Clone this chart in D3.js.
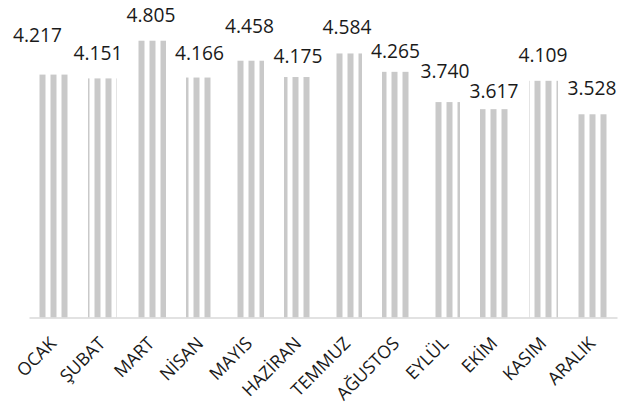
<!DOCTYPE html>
<html>
<head>
<meta charset="utf-8">
<script src="https://cdn.jsdelivr.net/npm/d3@7"></script>
<style>
  body { margin: 0; background: #fff; }
  svg { display: block; }
</style>
</head>
<body>
<div id="chart"></div>
<script>

var months = ["OCAK", "ŞUBAT", "MART", "NİSAN", "MAYIS", "HAZİRAN",
              "TEMMUZ", "AĞUSTOS", "EYLÜL", "EKİM", "KASIM", "ARALIK"];
var values = [4217, 4151, 4805, 4166, 4458, 4175, 4584, 4265, 3740, 3617, 4109, 3528];
var valueLabels = ["4.217", "4.151", "4.805", "4.166", "4.458", "4.175",
                   "4.584", "4.265", "3.740", "3.617", "4.109", "3.528"];

// labels were dragged by hand in the original, so each one gets its own nudge
var labelLift = [33, 18, 19, 17.5, 27.5, 14, 19.5, 14, 24, 11, 19, 19.5];
var labelShift = [-16, -4.5, -0.5, -1, 0, -0.5, -0.5, -1, -0.5, -0.5, -0.5, -0.5];

var svg_w = 625, svg_h = 404;
var plot = {left: 29, right: 617, top: 29.5, bottom: 317.5};
var font = "'Open Sans', 'Noto Sans', sans-serif";

var svg = d3.select("#chart").append("svg")
  .attr("width", svg_w)
  .attr("height", svg_h);

// striped fill, anchored to the page like the original
var pat = svg.append("defs").append("pattern")
  .attr("id", "stripes")
  .attr("patternUnits", "userSpaceOnUse")
  .attr("x", 39.5)
  .attr("y", 0)
  .attr("width", 11)
  .attr("height", 10);
pat.append("rect")
  .attr("x", 0).attr("y", 0)
  .attr("width", 6).attr("height", 10)
  .attr("fill", "#c9c9c9");

var x = d3.scaleBand()
  .domain(months)
  .range([plot.left, plot.right])
  .paddingInner(0.408)
  .paddingOuter(0.204);

var y = d3.scaleLinear()
  .domain([0, 5000])
  .range([plot.bottom, plot.top]);

// bars
svg.append("g").selectAll("rect")
  .data(values)
  .join("rect")
    .attr("x", function(d, i) { return x(months[i]); })
    .attr("y", function(d) { return y(d); })
    .attr("width", x.bandwidth())
    .attr("height", function(d) { return y(0) - y(d); })
    .attr("fill", "url(#stripes)");

// axis line
var xAxis = d3.axisBottom(x).tickSize(0).tickSizeOuter(0).tickFormat("");
var gx = svg.append("g")
  .attr("transform", "translate(0," + plot.bottom + ")")
  .call(xAxis);
gx.select(".domain").attr("stroke", "#d9d9d9").attr("stroke-width", 1.5);

// category labels, rotated
svg.append("g").selectAll("text")
  .data(months)
  .join("text")
    .attr("transform", function(d) {
      return "translate(" + (x(d) + x.bandwidth() / 2 + 4) + "," + (plot.bottom + 27) + ") rotate(-45)";
    })
    .attr("text-anchor", "end")
    .style("font-family", font)
    .style("font-size", "17.8px")
    .attr("fill", "#1a1a1a")
    .text(function(d) { return d; });

// value labels
svg.append("g").selectAll("text")
  .data(values)
  .join("text")
    .attr("x", function(d, i) { return x(months[i]) + x.bandwidth() / 2 + labelShift[i]; })
    .attr("y", function(d, i) { return y(d) - labelLift[i]; })
    .attr("text-anchor", "middle")
    .style("font-family", font)
    .style("font-size", "19.2px")
    .attr("fill", "#1a1a1a")
    .text(function(d, i) { return valueLabels[i]; });

</script>
</body>
</html>
